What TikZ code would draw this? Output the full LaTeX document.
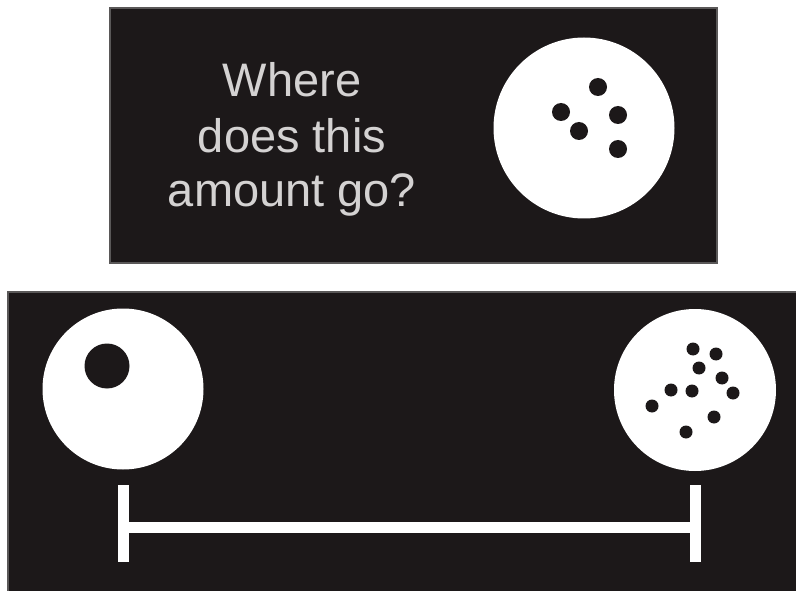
\documentclass[tikz,border=0pt]{standalone}
\usepackage{fontspec}
\setmainfont{Liberation Sans}
\definecolor{panel}{HTML}{1C1819}
\definecolor{paneledge}{HTML}{5A5858}
\definecolor{txt}{HTML}{D4D2D2}
\begin{document}
\begin{tikzpicture}[x=1pt,y=-1pt,
  panelbox/.style={fill=panel,draw=paneledge,line width=1.5pt},
  disc/.style={circle,fill=white,draw=none,inner sep=0pt},
  dot/.style={circle,fill=panel,draw=none,inner sep=0pt},
  label/.style={text=txt,font=\fontsize{47}{56}\selectfont,anchor=base,inner sep=0pt},
  barline/.style={draw=white,line width=11pt}]
\useasboundingbox (0,0) rectangle (796,591);
\fill[white] (0,0) rectangle (796,591);
% top panel
\draw[panelbox] (110,8) rectangle (717,263);
\node[label] (t1) at (292,97) {Where};
\node[label] (t2) at (292,153) {does this};
\node[label] (t3) at (292,207) {amount go?};
\node[disc,minimum size=181pt] (q) at (584,128) {};
\foreach \x/\y [count=\i] in {598/87,561/112,618/115,579/131,618/149}
  \node[dot,minimum size=18pt] (qd\i) at (\x,\y) {};
% bottom panel
\draw[panelbox] (8,292) rectangle (800,595);
\node[disc,minimum size=161pt] (l) at (123,389) {};
\node[dot,minimum size=45pt] (ld) at (107,366) {};
\node[disc,minimum size=162pt] (r) at (695,390) {};
\foreach \x/\y [count=\i] in {693/349,716/354,699/368,722/378,671/390,692/391,733/393,652/406,714/417,686/432}
  \node[dot,minimum size=13pt] (rd\i) at (\x,\y) {};
% scale bar
\coordinate (lt) at (123,485);
\coordinate (lb) at (123,562);
\coordinate (lm) at (123,527);
\coordinate (rt) at (695,485);
\coordinate (rb) at (695,562);
\coordinate (rm) at (695,527);
\draw[barline] (lt) -- (lb);
\draw[barline] (rt) -- (rb);
\draw[barline] (lm) -- (rm);
\end{tikzpicture}
\end{document}
